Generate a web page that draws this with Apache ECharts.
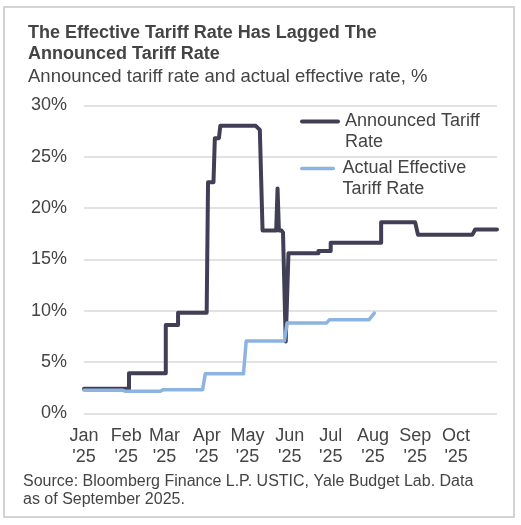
<!DOCTYPE html>
<html>
<head>
<meta charset="utf-8">
<script src="https://cdn.jsdelivr.net/npm/echarts@6/dist/echarts.min.js"></script>
<style>
  html, body { margin: 0; padding: 0; background: #ffffff; }
  #chart { width: 521px; height: 525px; }
</style>
</head>
<body>
<div id="chart"></div>
<script>
// ---- Data ----
const monthLabels = ['Jan', 'Feb', 'Mar', 'Apr', 'May', 'Jun', 'Jul', 'Aug', 'Sep', 'Oct', 'Nov', 'Dec'];
const yearLabel = "'25";
const yTickLabels = ['0%', '5%', '10%', '15%', '20%', '25%', '30%'];

const announcedDates = [
  '2025-01-01', '2025-02-03', '2025-02-03', '2025-03-02', '2025-03-02', '2025-03-11',
  '2025-03-11', '2025-04-01', '2025-04-02', '2025-04-06', '2025-04-07', '2025-04-10',
  '2025-04-11', '2025-05-07', '2025-05-10', '2025-05-12', '2025-05-22', '2025-05-23',
  '2025-05-24', '2025-05-26', '2025-05-27', '2025-05-29', '2025-05-31', '2025-06-22',
  '2025-06-22', '2025-07-01', '2025-07-01', '2025-08-07', '2025-08-07', '2025-09-01',
  '2025-09-03', '2025-10-13', '2025-10-15', '2025-10-31'
];
const announcedValues = [
  2.4, 2.4, 3.9, 3.9, 8.6, 8.6,
  9.8, 9.8, 22.5, 22.5, 26.8, 26.8,
  28.0, 28.0, 27.6, 17.8, 17.8, 21.9,
  17.8, 17.8, 17.6, 7.0, 15.6, 15.6,
  15.8, 15.8, 16.6, 16.6, 18.6, 18.6,
  17.4, 17.4, 17.9, 17.9
];

const effectiveDates = [
  '2025-01-01', '2025-01-29', '2025-01-31', '2025-02-26', '2025-02-28', '2025-03-29',
  '2025-03-31', '2025-04-28', '2025-04-30', '2025-05-28', '2025-05-30', '2025-06-28',
  '2025-06-30', '2025-07-29', '2025-08-02'
];
const effectiveValues = [
  2.25, 2.25, 2.15, 2.15, 2.3, 2.3,
  3.85, 3.85, 7.05, 7.05, 8.8, 8.8,
  9.1, 9.1, 9.75
];

const seriesNames = ['Announced Tariff Rate', 'Actual Effective Tariff Rate'];
const legendTexts = ['Announced Tariff\nRate', 'Actual Effective\nTariff Rate'];

const titleText = 'The Effective Tariff Rate Has Lagged The\nAnnounced Tariff Rate';
const subtitleText = 'Announced tariff rate and actual effective rate, %';
const sourceText = 'Source: Bloomberg Finance L.P. USTIC, Yale Budget Lab. Data\nas of September 2025.';

// ---- Build ----
const FONT = '"Liberation Sans", Arial, Helvetica, sans-serif';
const TEXT = '#444444';
const DARK = '#403f56';
const BLUE = '#8db4e0';
const LEGEND_ICON = 'path://M2,0 L38,0 A2,2 0 0 1 38,4 L2,4 A2,2 0 0 1 2,0 Z';

function pairs(dates, values) {
  return dates.map((d, i) => [d, values[i]]);
}

const chart = echarts.init(document.getElementById('chart'), null, { renderer: 'canvas' });

function makeLegend(idx, top, h) {
  return {
    data: [seriesNames[idx]],
    left: 300, top: top,
    orient: 'vertical',
    padding: 0,
    icon: LEGEND_ICON,
    itemWidth: 40,
    itemHeight: h,
    itemGap: 0,
    selectedMode: false,
    textStyle: { fontFamily: FONT, fontSize: 18, lineHeight: 21, color: TEXT },
    formatter: function (name) {
      return '\n' + legendTexts[seriesNames.indexOf(name)];
    }
  };
}

chart.setOption({
  animation: false,
  backgroundColor: '#ffffff',
  title: [
    {
      text: titleText,
      left: 28, top: 23, padding: 0,
      textStyle: { fontFamily: FONT, fontSize: 18, fontWeight: 'bold', lineHeight: 21, color: TEXT }
    },
    {
      text: subtitleText,
      left: 28, top: 66, padding: 0,
      textStyle: { fontFamily: FONT, fontSize: 18.5, fontWeight: 'normal', lineHeight: 21, color: TEXT }
    },
    {
      text: sourceText,
      left: 23, top: 472, padding: 0,
      textStyle: { fontFamily: FONT, fontSize: 16, fontWeight: 'normal', lineHeight: 18.5, color: TEXT }
    }
  ],
  legend: [
    makeLegend(0, 90, 4),
    makeLegend(1, 137, 3.5)
  ],
  grid: {
    left: 84, right: 24, top: 105.3, bottom: 111.7,
    containLabel: false,
    outerBoundsMode: 'none'
  },
  xAxis: {
    type: 'time',
    min: '2025-01-01',
    max: '2025-10-31',
    minInterval: 28 * 86400000,
    maxInterval: 31 * 86400000,
    axisLine: { show: false },
    axisTick: { show: false },
    splitLine: { show: false },
    axisLabel: {
      margin: 12,
      fontFamily: FONT, fontSize: 18, lineHeight: 21, color: TEXT,
      hideOverlap: false,
      formatter: function (value) {
        const d = new Date(value);
        return monthLabels[d.getMonth()] + '\n' + yearLabel;
      }
    }
  },
  yAxis: {
    type: 'value',
    min: 0, max: 30, interval: 5,
    axisLine: { show: false },
    axisTick: { show: false },
    splitLine: { lineStyle: { color: '#d9d9d9', width: 1.5 } },
    axisLabel: {
      margin: 17,
      fontFamily: FONT, fontSize: 18, color: TEXT,
      formatter: function (v) { return yTickLabels[Math.round(v / 5)]; }
    }
  },
  series: [
    {
      name: seriesNames[0],
      type: 'line',
      data: pairs(announcedDates, announcedValues),
      showSymbol: false, symbol: 'none',
      color: DARK,
      itemStyle: { color: DARK },
      lineStyle: { color: DARK, width: 4, join: 'round', cap: 'round' },
      z: 2
    },
    {
      name: seriesNames[1],
      type: 'line',
      data: pairs(effectiveDates, effectiveValues),
      showSymbol: false, symbol: 'none',
      color: BLUE,
      itemStyle: { color: BLUE },
      lineStyle: { color: BLUE, width: 3.5, join: 'round', cap: 'round' },
      z: 3
    }
  ],
  graphic: [
    {
      type: 'rect',
      shape: { x: 4, y: 7, width: 510, height: 510 },
      style: { fill: 'none', stroke: '#d4d4d4', lineWidth: 2 },
      silent: true
    }
  ]
});
</script>
</body>
</html>
